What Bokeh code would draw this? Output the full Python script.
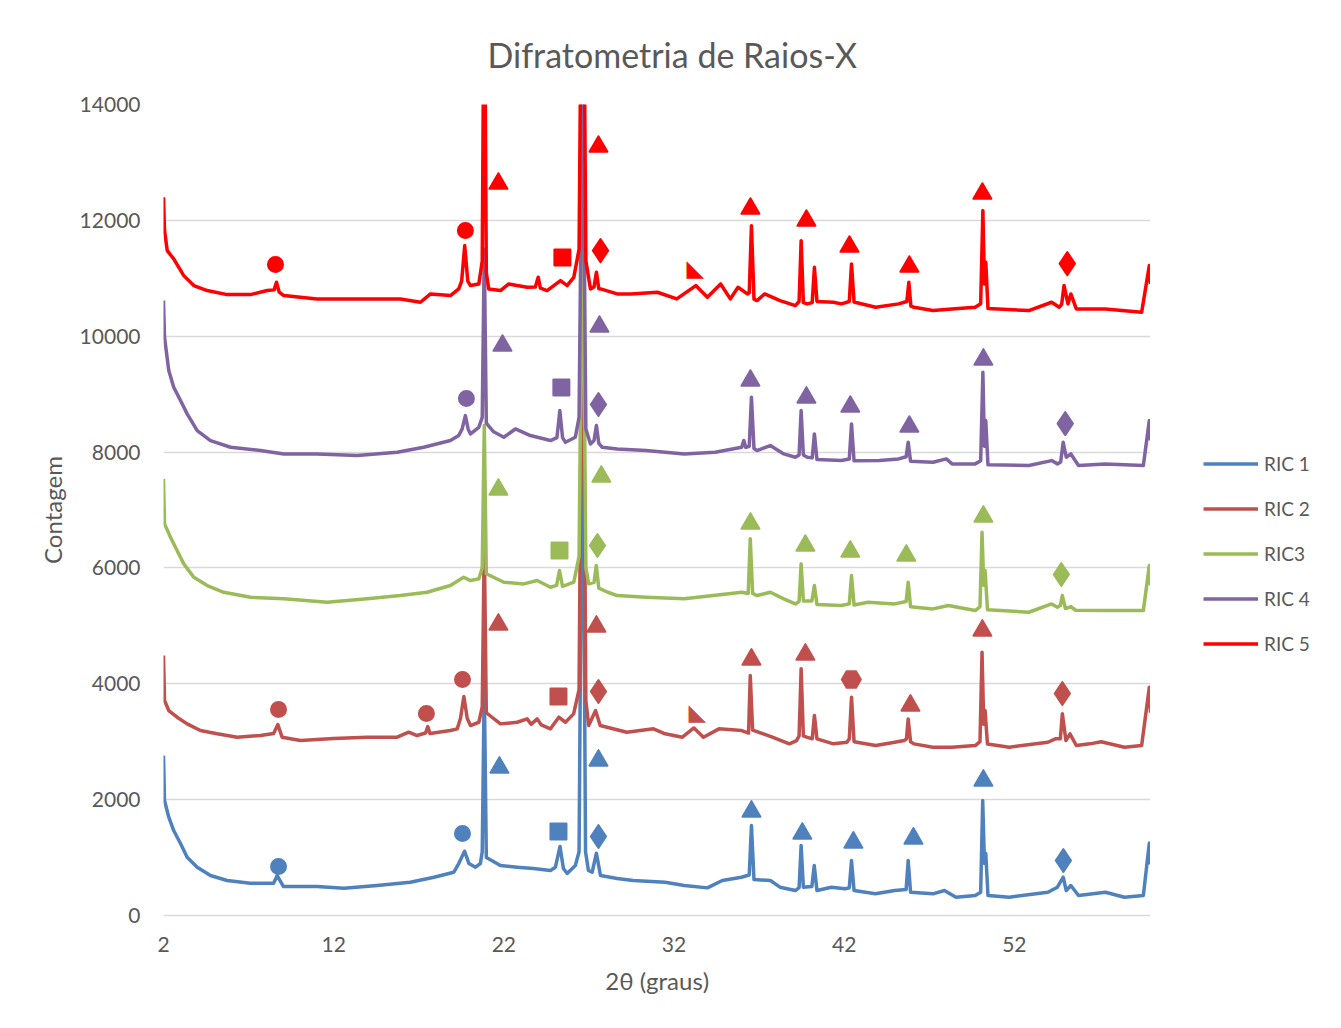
from bokeh.plotting import figure
from bokeh.layouts import row
from bokeh.models import Range1d, FixedTicker, Legend, LegendItem, ColumnDataSource
from bokeh.core.properties import value
from bokeh.embed import file_html
from bokeh.resources import INLINE

# ---------------- data ----------------
title_text = "Difratometria de Raios-X"
series_names = ["RIC 1", "RIC 2", "RIC3", "RIC 4", "RIC 5"]
series_colors = ["#4F81BD", "#C0504D", "#9BBB59", "#8064A2", "#FF0000"]
x_ticks = [2, 12, 22, 32, 42, 52]
y_ticks = [0, 2000, 4000, 6000, 8000, 10000, 12000, 14000]

ric1 = [(2.0, 2760), (2.06, 1985), (2.31, 1697), (2.6, 1467), (3.0, 1243), (3.39, 1006), (3.98, 834),
        (4.76, 690), (5.74, 604), (7.1, 558), (8.47, 558), (8.68, 690), (9.05, 500), (11.03, 500),
        (12.6, 471), (14.55, 518), (16.5, 575), (17.9, 661), (19.06, 747), (19.35, 897), (19.69, 1110),
        (19.95, 897), (20.33, 834), (20.62, 897), (20.73, 1100), (20.85, 4000), (20.97, 1000), (21.8, 863),
        (22.78, 834), (23.74, 811), (24.74, 777), (25.03, 834), (25.3, 1190), (25.5, 811), (25.72, 725),
        (26.2, 863), (26.42, 1100), (26.63, 9500), (26.8, 1100), (26.97, 777), (27.19, 747), (27.44, 1075),
        (27.68, 690), (28.66, 639), (29.6, 604), (31.48, 575), (32.6, 518), (33.96, 477), (34.84, 604),
        (35.96, 661), (36.42, 700), (36.55, 1553), (36.7, 620), (37.66, 604), (38.23, 489), (39.13, 431),
        (39.35, 480), (39.47, 1208), (39.6, 489), (40.1, 500), (40.24, 863), (40.4, 431), (41.25, 489),
        (42.05, 460), (42.3, 480), (42.43, 949), (42.58, 431), (43.83, 374), (44.97, 431), (45.64, 450),
        (45.76, 949), (45.9, 402), (47.22, 374), (47.89, 431), (48.57, 316), (49.7, 345), (50.02, 400),
        (50.14, 1985), (50.24, 900), (50.32, 1070), (50.45, 345), (51.7, 316), (53.97, 402), (54.53, 489),
        (54.87, 661), (55.05, 431), (55.32, 518), (55.77, 345), (57.35, 402), (58.47, 316), (59.58, 345),
        (59.93, 1250), (60.0, 880)]

ric2 = [(2.0, 4488), (2.06, 3711), (2.31, 3538), (2.8, 3423), (3.39, 3308), (4.17, 3193), (5.15, 3136),
        (6.33, 3078), (7.7, 3107), (8.47, 3141), (8.72, 3297), (8.97, 3078), (10.05, 3020), (12.0, 3055),
        (13.97, 3078), (15.73, 3078), (16.41, 3164), (16.9, 3107), (17.4, 3150), (17.53, 3262), (17.66, 3140),
        (18.86, 3193), (19.26, 3222), (19.45, 3400), (19.65, 3780), (19.85, 3400), (20.04, 3279), (20.53, 3336),
        (20.73, 3600), (20.85, 6450), (20.97, 3500), (21.8, 3308), (22.78, 3336), (23.37, 3394), (23.6, 3300),
        (23.96, 3394), (24.2, 3290), (24.74, 3222), (25.23, 3423), (25.62, 3336), (26.1, 3481), (26.42, 3900),
        (26.63, 12000), (26.82, 3700), (26.99, 3279), (27.39, 3538), (27.66, 3279), (29.23, 3164), (30.79, 3222),
        (31.48, 3136), (32.49, 3078), (33.17, 3237), (33.73, 3078), (34.64, 3222), (35.98, 3193), (36.38, 3150),
        (36.48, 4142), (36.62, 3200), (37.78, 3078), (38.78, 2963), (39.2, 3020), (39.35, 3100), (39.47, 4258),
        (39.6, 3100), (39.8, 3078), (40.12, 3050), (40.25, 3452), (40.4, 3050), (41.37, 2963), (42.16, 2991),
        (42.3, 3050), (42.43, 3768), (42.58, 3000), (43.85, 2934), (44.97, 2991), (45.52, 3020), (45.66, 3050),
        (45.76, 3394), (45.9, 3000), (46.1, 2963), (47.21, 2905), (48.33, 2905), (49.7, 2934), (49.98, 3000),
        (50.1, 4545), (50.2, 3300), (50.28, 3538), (50.42, 2960), (51.7, 2905), (53.97, 2991), (54.41, 3050),
        (54.7, 3050), (54.82, 3481), (55.03, 3020), (55.27, 3136), (55.64, 2934), (56.44, 2963), (57.1, 3000),
        (58.47, 2905), (59.48, 2934), (59.93, 3940), (60.0, 3500)]

ric3 = [(2.0, 7537), (2.06, 6761), (2.41, 6530), (2.8, 6300), (3.19, 6070), (3.78, 5839), (4.57, 5696),
        (5.54, 5580), (7.11, 5494), (9.07, 5466), (11.62, 5408), (13.97, 5466), (15.92, 5523), (17.49, 5580),
        (18.86, 5696), (19.64, 5839), (20.04, 5782), (20.53, 5811), (20.73, 6000), (20.85, 8460), (20.97, 5900),
        (22.0, 5753), (23.17, 5724), (23.96, 5782), (24.74, 5667), (25.1, 5700), (25.27, 5955), (25.45, 5680),
        (26.11, 5753), (26.42, 6200), (26.63, 12500), (26.82, 6000), (26.99, 5724), (27.3, 5750), (27.43, 6041),
        (27.58, 5650), (28.11, 5580), (28.66, 5523), (30.36, 5494), (32.6, 5466), (35.08, 5551), (35.98, 5580),
        (36.36, 5560), (36.48, 6502), (36.62, 5560), (36.88, 5523), (37.66, 5580), (38.45, 5466), (39.13, 5379),
        (39.35, 5420), (39.47, 6070), (39.6, 5430), (40.1, 5430), (40.25, 5696), (40.4, 5370), (41.83, 5351),
        (42.3, 5380), (42.43, 5868), (42.58, 5360), (43.4, 5408), (44.97, 5379), (45.64, 5420), (45.76, 5753),
        (45.9, 5330), (47.22, 5293), (48.12, 5351), (49.7, 5264), (49.98, 5330), (50.1, 6616), (50.2, 5700),
        (50.28, 5955), (50.42, 5280), (52.85, 5235), (54.19, 5379), (54.53, 5322), (54.7, 5350), (54.82, 5523),
        (55.0, 5300), (55.32, 5330), (55.6, 5270), (57.35, 5264), (59.58, 5264), (59.93, 6041), (60.0, 5700)]

ric4 = [(2.0, 10615), (2.06, 9981), (2.31, 9407), (2.6, 9119), (3.0, 8889), (3.39, 8659), (3.98, 8371),
        (4.76, 8199), (5.94, 8083), (7.7, 8026), (9.07, 7968), (11.03, 7968), (13.38, 7940), (15.73, 7997),
        (17.29, 8083), (18.86, 8199), (19.35, 8285), (19.55, 8400), (19.74, 8630), (19.9, 8400), (20.04, 8313),
        (20.53, 8428), (20.73, 8600), (20.85, 11500), (20.97, 8500), (21.4, 8350), (22.0, 8256), (22.68, 8399),
        (23.56, 8285), (24.74, 8199), (25.12, 8250), (25.29, 8716), (25.45, 8250), (25.62, 8169), (26.2, 8256),
        (26.42, 8600), (26.63, 14800), (26.82, 8400), (27.09, 8140), (27.3, 8200), (27.44, 8457), (27.58, 8150),
        (27.78, 8083), (28.66, 8054), (30.36, 8026), (32.6, 7968), (34.41, 7997), (35.98, 8083), (36.1, 8200),
        (36.22, 8080), (36.42, 8100), (36.55, 8946), (36.7, 8060), (36.88, 8026), (37.66, 8112), (38.45, 7968),
        (39.13, 7911), (39.35, 7950), (39.47, 8716), (39.6, 7950), (39.83, 7911), (40.12, 7900), (40.25, 8313),
        (40.4, 7870), (41.83, 7853), (42.3, 7880), (42.43, 8486), (42.58, 7850), (44.07, 7853), (45.2, 7882),
        (45.64, 7920), (45.76, 8169), (45.9, 7840), (47.22, 7824), (48.0, 7882), (48.34, 7796), (49.7, 7796),
        (50.02, 7850), (50.15, 9378), (50.24, 8100), (50.32, 8544), (50.45, 7780), (52.85, 7767), (54.19, 7853),
        (54.53, 7796), (54.72, 7830), (54.87, 8169), (55.05, 7911), (55.32, 7968), (55.77, 7767), (57.35, 7796),
        (59.58, 7767), (59.93, 8544), (60.0, 8200)]

ric5 = [(2.0, 12398), (2.06, 11823), (2.22, 11478), (2.6, 11334), (3.19, 11046), (3.78, 10874), (4.57, 10788),
        (5.74, 10718), (7.11, 10718), (8.09, 10788), (8.5, 10800), (8.64, 10931), (8.8, 10760), (9.07, 10701),
        (11.03, 10644), (13.97, 10644), (15.92, 10644), (17.1, 10586), (17.69, 10730), (18.86, 10701),
        (19.35, 10816), (19.52, 10950), (19.7, 11564), (19.88, 10950), (20.04, 10874), (20.53, 10902),
        (20.73, 11300), (20.85, 17000), (20.97, 11100), (21.11, 10816), (21.8, 10788), (22.29, 10902),
        (22.78, 10874), (23.37, 10845), (23.85, 10850), (24.02, 11017), (24.15, 10830), (24.54, 10788),
        (25.33, 10960), (25.72, 10874), (26.11, 11017), (26.42, 11500), (26.63, 19000), (26.82, 11300),
        (27.09, 10816), (27.3, 10850), (27.44, 11103), (27.58, 10820), (27.68, 10816), (28.66, 10730),
        (29.46, 10730), (31.02, 10759), (32.16, 10644), (33.28, 10874), (33.96, 10672), (34.74, 10902),
        (35.31, 10644), (35.76, 10845), (36.31, 10730), (36.42, 10750), (36.55, 11909), (36.7, 10640),
        (36.88, 10615), (37.33, 10730), (38.23, 10615), (39.13, 10529), (39.35, 10600), (39.47, 11650),
        (39.6, 10580), (39.83, 10558), (40.12, 10580), (40.25, 11190), (40.4, 10600), (41.37, 10586),
        (41.83, 10558), (42.3, 10600), (42.43, 11248), (42.58, 10590), (43.85, 10500), (45.2, 10558),
        (45.68, 10600), (45.8, 10931), (45.92, 10520), (46.1, 10500), (47.22, 10443), (48.33, 10471),
        (49.7, 10500), (50.02, 10560), (50.15, 12168), (50.24, 10900), (50.32, 11276), (50.45, 10480),
        (52.85, 10443), (54.19, 10586), (54.64, 10500), (54.78, 10550), (54.92, 10874), (55.15, 10558),
        (55.32, 10730), (55.64, 10471), (57.35, 10471), (59.48, 10414), (59.93, 11219), (60.0, 10900)]

# phase markers: (2theta, count, shape)
ric1_marks = [(8.76, 846, "circle"), (19.57, 1415, "circle"), (21.74, 2554, "triangle"), (25.21, 1450, "square"),
              (27.56, 2675, "triangle"), (27.56, 1364, "diamond"), (36.55, 1795, "triangle"), (39.54, 1415, "triangle"),
              (42.54, 1260, "triangle"), (46.07, 1329, "triangle"), (50.18, 2330, "triangle"), (54.88, 949, "diamond")]
ric2_marks = [(8.76, 3556, "circle"), (17.45, 3487, "circle"), (19.57, 4073, "circle"), (21.68, 5023, "triangle"),
              (25.21, 3780, "square"), (27.44, 4988, "triangle"), (27.56, 3866, "diamond"), (33.37, 3521, "rtri"),
              (36.55, 4419, "triangle"), (39.72, 4505, "triangle"), (42.42, 4073, "hex"), (45.89, 3625, "triangle"),
              (50.12, 4919, "triangle"), (54.82, 3832, "diamond")]
ric3_marks = [(21.68, 7353, "triangle"), (25.27, 6300, "square"), (27.73, 7577, "triangle"), (27.5, 6386, "diamond"),
              (36.49, 6766, "triangle"), (39.72, 6386, "triangle"), (42.36, 6283, "triangle"), (45.65, 6214, "triangle"),
              (50.18, 6887, "triangle"), (54.76, 5886, "diamond")]
ric4_marks = [(19.8, 8923, "circle"), (21.92, 9838, "triangle"), (25.38, 9113, "square"), (27.62, 10166, "triangle"),
              (27.56, 8820, "diamond"), (36.49, 9234, "triangle"), (39.78, 8941, "triangle"), (42.36, 8785, "triangle"),
              (45.83, 8440, "triangle"), (50.18, 9597, "triangle"), (54.99, 8492, "diamond")]
ric5_marks = [(8.58, 11236, "circle"), (19.74, 11823, "circle"), (21.68, 12634, "triangle"), (25.44, 11357, "square"),
              (27.56, 13273, "triangle"), (27.68, 11478, "diamond"), (33.26, 11184, "rtri"), (36.49, 12203, "triangle"),
              (39.78, 11996, "triangle"), (42.31, 11547, "triangle"), (45.83, 11202, "triangle"), (50.12, 12462, "triangle"),
              (55.11, 11254, "diamond")]

all_series = [ric1, ric2, ric3, ric4, ric5]
all_marks = [ric1_marks, ric2_marks, ric3_marks, ric4_marks, ric5_marks]

# ---------------- main figure ----------------
GRAY = "#595959"
FONT = "Lato"
H = 1024
W_MAIN, W_LEG = 1150, 188

p = figure(width=W_MAIN, height=H, output_backend="svg", toolbar_location=None,
           x_range=Range1d(2, 60), y_range=Range1d(0, 14000),
           min_border_left=163, min_border_right=0, min_border_top=104, min_border_bottom=H - 915)

p.title.text = title_text
p.title.align = "left"
p.title.offset = 324
p.title.text_font = FONT
p.title.text_font_size = "34px"
p.title.text_font_style = "normal"
p.title.text_color = GRAY
p.title.standoff = 59

p.outline_line_color = None
p.background_fill_color = "white"
p.border_fill_color = "white"

p.xgrid.visible = False
p.ygrid.grid_line_color = "#D9D9D9"
p.ygrid.grid_line_width = 1.3

p.xaxis.ticker = FixedTicker(ticks=x_ticks)
p.yaxis.ticker = FixedTicker(ticks=y_ticks)
for ax in (p.xaxis[0], p.yaxis[0]):
    ax.major_tick_line_color = None
    ax.minor_tick_line_color = None
    ax.major_tick_out = 0
    ax.major_tick_in = 0
    ax.major_label_text_font = FONT
    ax.major_label_text_font_size = "21px"
    ax.major_label_text_color = GRAY
    ax.axis_label_text_font = FONT
    ax.axis_label_text_font_size = "24px"
    ax.axis_label_text_font_style = "normal"
    ax.axis_label_text_color = GRAY
p.xaxis.axis_line_color = "#D9D9D9"
p.xaxis.axis_line_width = 1.3
p.yaxis.axis_line_color = None
p.xaxis.axis_label = "2θ (graus)"
p.yaxis.axis_label = "Contagem"
p.xaxis.major_label_standoff = 21
p.yaxis.major_label_standoff = 23
p.xaxis.axis_label_standoff = 11
p.yaxis.axis_label_standoff = 10

renderers = []
for pts, col in zip(all_series, series_colors):
    xs = [a for a, b in pts]
    ys = [b for a, b in pts]
    r = p.line(xs, ys, line_color=col, line_width=3.5, line_join="round")
    renderers.append(r)

sizes = {"circle": 15, "triangle": 18, "square": 16, "diamond": 23, "hex": 19}
for marks, col in zip(all_marks, series_colors):
    std = [m for m in marks if m[2] != "rtri"]
    src = ColumnDataSource(dict(x=[m[0] for m in std], y=[m[1] for m in std],
                                marker=[m[2] for m in std], size=[sizes[m[2]] for m in std]))
    p.scatter("x", "y", source=src, marker="marker", size="size",
              fill_color=col, line_color=col, line_width=2, line_join="round")
    rt = [m for m in marks if m[2] == "rtri"]
    if rt:
        p.text([m[0] for m in rt], [m[1] for m in rt], text=["◣"] * len(rt),
               text_font=value("DejaVu Sans"), text_font_size="23px",
               text_align="center", text_baseline="middle", text_color=col)

# ---------------- legend panel (right of the plot area) ----------------
pl = figure(width=W_LEG, height=H, output_backend="svg", toolbar_location=None,
            x_range=Range1d(0, 1), y_range=Range1d(0, 1), min_border=0)
pl.axis.visible = False
pl.grid.visible = False
pl.outline_line_color = None
pl.background_fill_color = "white"
pl.border_fill_color = "white"

# legend proxies: same line styles, kept outside the visible range of this panel
leg_renderers = [pl.line([-2, -1], [-2, -1], line_color=c, line_width=3.5) for c in series_colors]
legend = Legend(items=[LegendItem(label=n, renderers=[r]) for n, r in zip(series_names, leg_renderers)],
                location=(53, 260), orientation="vertical",
                glyph_width=55, glyph_height=23, label_height=23, spacing=22, padding=0, margin=0,
                label_standoff=6, border_line_color=None, background_fill_alpha=0,
                label_text_font=FONT, label_text_font_size="19px", label_text_color=GRAY)
pl.add_layout(legend, "center")

layout = row(p, pl, spacing=0)
open("out.html", "w").write(file_html(layout, INLINE))
